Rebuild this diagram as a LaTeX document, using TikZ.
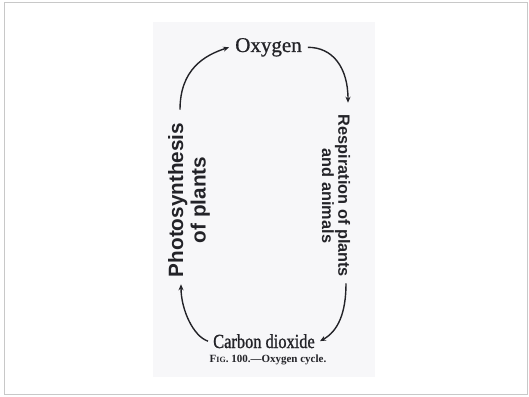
\documentclass[tikz,border=0pt]{standalone}
\usepackage{fontspec}
\setmainfont{Liberation Serif}
\setsansfont{Liberation Sans}
\newfontfamily\inkserif[FakeBold=0.8]{Liberation Serif}
\newfontfamily\condserif[FakeStretch=0.82, FakeBold=1.0]{Liberation Serif}
\usetikzlibrary{arrows.meta}
\definecolor{ink}{RGB}{35,35,40}
\definecolor{paper}{RGB}{247,247,249}
\definecolor{frame}{RGB}{200,200,200}

\begin{document}
\begin{tikzpicture}[x=1pt, y=-1pt, >={Stealth[length=6pt,width=5pt]},
    label/.style={text=ink, inner sep=0pt, align=center},
    cyc/.style={->, draw=ink, line width=1.4pt}]
    \useasboundingbox (0,0) rectangle (529,396);
    \draw [frame, line width=1pt] (4,3) rectangle (527.5,394.5);
    \fill [paper] (153,22) rectangle (375,377);

    \node (oxygen) [label, anchor=base, inner sep=6pt, font=\inkserif\fontsize{21}{24}\selectfont] at (268.5,52) {Oxygen};
    \node (codioxide) [label, anchor=base, inner sep=5pt, font=\condserif\fontsize{20}{22}\selectfont] at (264,348) {Carbon dioxide};
    \node (caption) [label, anchor=base, font=\bfseries\fontsize{11}{13}\selectfont] at (268,362) {F{\fontsize{8}{10}\selectfont IG}. 100.---Oxygen cycle.};
    \node (photo) [label, rotate=90, font=\sffamily\bfseries\fontsize{20.7}{22.5}\selectfont] at (189,200) {Photosynthesis\\of plants};
    \node (resp) [label, rotate=-90, font=\sffamily\bfseries\fontsize{16.3}{15}\selectfont] at (336,196) {Respiration of plants\\and animals};

    \draw [cyc] ([shift={(-9,-13)}]photo.east) .. controls +(0,-40) and +(-25,8) .. (oxygen.west);
    \draw [cyc] (oxygen.east) .. controls +(25,0) and +(0,-35) .. ([shift={(12,-12)}]resp.west);
    \draw [cyc] ([shift={(10,6)}]resp.east) .. controls +(0,30) and +(18,-10) .. (codioxide.east);
    \draw [cyc] (codioxide.west) .. controls +(-15,-5) and +(0,25) .. ([shift={(-8,7)}]photo.west);
\end{tikzpicture}
\end{document}
